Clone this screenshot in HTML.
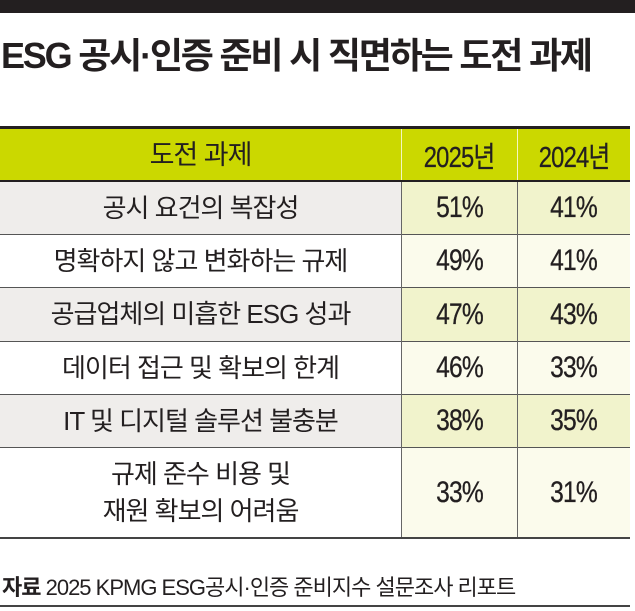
<!DOCTYPE html>
<html><head><meta charset="utf-8"><style>
*{margin:0;padding:0;box-sizing:border-box}
body{width:635px;height:611px;background:#fff;position:relative;overflow:hidden;font-family:"Liberation Sans","Noto Sans CJK KR",sans-serif;color:#231f20}
.topbar{position:absolute;left:0;top:0;width:635px;height:13px;background:#231f20}
.title{position:absolute;left:1px;top:27px;font-size:36px;font-weight:bold;letter-spacing:-2.2px;white-space:nowrap}
.c{position:absolute;display:flex;align-items:center;justify-content:center;text-align:center}
.l{left:0;width:401px;font-size:26px;letter-spacing:-1px;line-height:37px}
.a,.b{font-size:30px;letter-spacing:-1px}
.a{left:402px;width:115px}
.b{left:518px;width:112px}
.a span,.b span{display:inline-block;transform:scaleX(0.82);-webkit-text-stroke:0.3px #231f20}
.hline{position:absolute;left:0;width:630px}
.vline{position:absolute;width:1px;background:#666}
.foot{position:absolute;left:2px;top:570px;font-size:22px;letter-spacing:-1px;white-space:nowrap}
</style></head><body>
<div class="topbar"></div>
<div class="title">ESG 공시·인증 준비 시 직면하는 도전 과제</div>

<div class="c l" style="top:129px;height:52px;background:#cbd800;font-size:27px">도전 과제</div>
<div class="c a" style="top:129px;height:52px;background:#cbd800;font-size:29px"><span>2025년</span></div>
<div class="c b" style="top:129px;height:52px;background:#cbd800;font-size:29px"><span>2024년</span></div>
<div style="position:absolute;left:401px;top:129px;width:1px;height:52px;background:#f4f6c0"></div>
<div style="position:absolute;left:517px;top:129px;width:1px;height:52px;background:#f4f6c0"></div>

<div class="c l" style="top:182px;height:52px;background:#efedeb">공시 요건의 복잡성</div>
<div class="c a" style="top:182px;height:52px;background:#f1f3cc"><span>51%</span></div>
<div class="c b" style="top:182px;height:52px;background:#f1f3cc"><span>41%</span></div>

<div class="c l" style="top:235px;height:52px;background:#fff">명확하지 않고 변화하는 규제</div>
<div class="c a" style="top:235px;height:52px;background:#fbfbec"><span>49%</span></div>
<div class="c b" style="top:235px;height:52px;background:#fbfbec"><span>41%</span></div>

<div class="c l" style="top:288px;height:53px;background:#efedeb">공급업체의 미흡한 ESG 성과</div>
<div class="c a" style="top:288px;height:53px;background:#f1f3cc"><span>47%</span></div>
<div class="c b" style="top:288px;height:53px;background:#f1f3cc"><span>43%</span></div>

<div class="c l" style="top:342px;height:52px;background:#fff">데이터 접근 및 확보의 한계</div>
<div class="c a" style="top:342px;height:52px;background:#fbfbec"><span>46%</span></div>
<div class="c b" style="top:342px;height:52px;background:#fbfbec"><span>33%</span></div>

<div class="c l" style="top:395px;height:52px;background:#efedeb">IT 및 디지털 솔루션 불충분</div>
<div class="c a" style="top:395px;height:52px;background:#f1f3cc"><span>38%</span></div>
<div class="c b" style="top:395px;height:52px;background:#f1f3cc"><span>35%</span></div>

<div class="c l" style="top:448px;height:89px;background:#fff">규제 준수 비용 및<br>재원 확보의 어려움</div>
<div class="c a" style="top:448px;height:89px;background:#fbfbec"><span>33%</span></div>
<div class="c b" style="top:448px;height:89px;background:#fbfbec"><span>31%</span></div>

<div class="hline" style="top:126px;height:3px;background:#231f20"></div>
<div class="hline" style="top:180px;height:2px;background:#231f20"></div>
<div class="hline" style="top:234px;height:1px;background:#555"></div>
<div class="hline" style="top:287px;height:1px;background:#555"></div>
<div class="hline" style="top:341px;height:1px;background:#555"></div>
<div class="hline" style="top:394px;height:1px;background:#555"></div>
<div class="hline" style="top:447px;height:1px;background:#555"></div>
<div class="hline" style="top:537px;height:2px;background:#444"></div>
<div class="vline" style="left:401px;top:182px;height:355px"></div>
<div class="vline" style="left:517px;top:182px;height:355px"></div>

<div class="foot"><b>자료</b> 2025 KPMG ESG공시·인증 준비지수 설문조사 리포트</div>
<div class="hline" style="top:605px;height:2px;background:#444"></div>
</body></html>
